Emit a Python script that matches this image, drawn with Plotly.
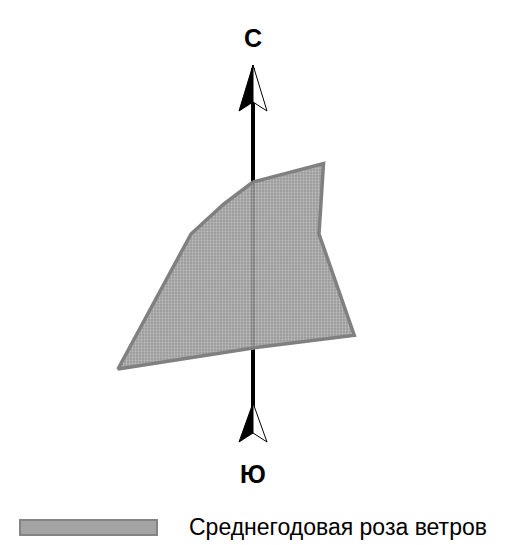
import numpy as np
import plotly.graph_objects as go

# среднегодовая повторяемость ветров, %
directions = ['С', 'СВ', 'В', 'ЮВ', 'Ю', 'ЮЗ', 'З', 'СЗ']
angles = [0, 45, 90, 135, 180, 225, 270, 315]
freq = [6.75, 12.95, 8.57, 18.6, 14.8, 24.8, 8.05, 5.44]
legend_text = 'Среднегодовая роза ветров'

# страница имеет отступ 8px, поэтому фигура чуть меньше окна
W, H = 497, 537
px = 7.7            # пикселей на 1 %
cx, cy = 245, 226   # центр розы в пикселях фигуры

th = np.radians(angles + angles[:1])
r = np.array(freq + freq[:1])
x = r * np.sin(th)
y = r * np.cos(th)


def to_y(py):
    return (cy - py) / px


def to_x(px_):
    return (px_ - cx) / px


fig = go.Figure()
fig.add_trace(go.Scatter(
    x=x, y=y, mode='lines', fill='toself', name=legend_text, showlegend=False,
    line=dict(color='#808080', width=3.5),
    fillpattern=dict(shape='.', fgcolor='rgba(225,225,225,0.95)', bgcolor='rgba(138,138,138,0.88)',
                     size=3, solidity=0.45),
    hoverinfo='skip'
))

# ось север-юг со стрелками
tip_top, barb_top, notch_top = to_y(57), to_y(103), to_y(94)
tip_bot, barb_bot, notch_bot = to_y(395), to_y(434), to_y(425)
half = 14 / px
fig.add_shape(type='line', x0=0, x1=0, y0=tip_top - 0.4, y1=notch_bot,
              line=dict(color='black', width=4), layer='below')
for tip, barb, notch in [(tip_top, barb_top, notch_top), (tip_bot, barb_bot, notch_bot)]:
    fig.add_shape(type='path', path=f'M 0 {tip} L {-half} {barb} L 0 {notch} Z',
                  fillcolor='black', line=dict(color='black', width=1), layer='below')
    fig.add_shape(type='path', path=f'M 0 {tip} L {half} {barb} L 0 {notch} Z',
                  fillcolor='white', line=dict(color='black', width=1), layer='below')

fig.add_annotation(x=0, y=to_y(30), text='<b>С</b>', showarrow=False,
                   font=dict(family='Arial', size=25, color='black'))
fig.add_annotation(x=0, y=to_y(466), text='<b>Ю</b>', showarrow=False,
                   font=dict(family='Arial', size=25, color='black'))

# легенда
fig.add_shape(type='rect', x0=to_x(12), x1=to_x(149), y0=to_y(512), y1=to_y(527),
              fillcolor='#a4a4a4', line=dict(color='#848484', width=2), layer='below')
fig.add_annotation(x=to_x(179), y=to_y(519), text=legend_text, showarrow=False,
                   xanchor='left', yanchor='middle',
                   font=dict(family='Arial', size=23, color='black'))

fig.update_xaxes(range=[-cx / px, (W - cx) / px], visible=False, fixedrange=True)
fig.update_yaxes(range=[(cy - H) / px, cy / px], visible=False, fixedrange=True)
fig.update_layout(
    width=W, height=H, autosize=False,
    margin=dict(l=0, r=0, t=0, b=0),
    paper_bgcolor='white', plot_bgcolor='white',
    showlegend=False,
)

fig.write_html('out.html')
